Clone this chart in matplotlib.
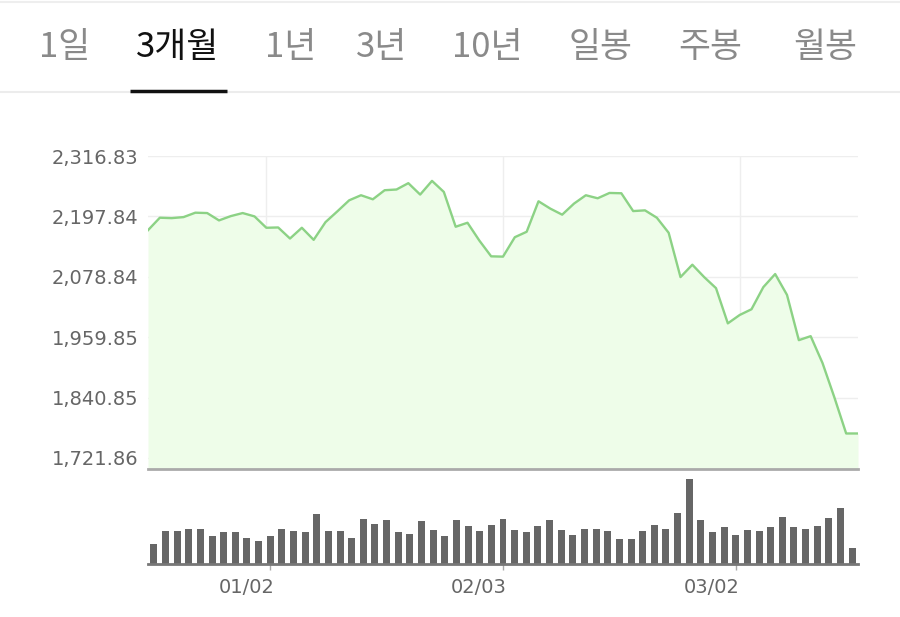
import numpy as np
import matplotlib
matplotlib.use('Agg')
import matplotlib.pyplot as plt
import matplotlib.transforms as mtransforms
from matplotlib.lines import Line2D

## datos
tabs       = ['1일', '3개월', '1년', '3년', '10년', '일봉', '주봉', '월봉']
tab_activo = 1

precio = [2170.6, 2195.2, 2194.4, 2196.4, 2205.1, 2204.4, 2189.9, 2198.4, 2204.4, 2197.8,
          2175.4, 2176.0, 2154.2, 2175.4, 2151.6, 2186.5, 2207.7, 2229.5, 2239.5, 2231.5,
          2249.4, 2250.8, 2263.3, 2240.8, 2267.8, 2246.0, 2177.4, 2185.3, 2150.2, 2119.1,
          2118.5, 2156.8, 2167.5, 2227.6, 2213.1, 2201.2, 2223.0, 2239.5, 2233.5, 2244.0,
          2243.4, 2208.3, 2209.7, 2195.2, 2165.5, 2078.2, 2102.6, 2078.2, 2056.4, 1987.0,
          2003.5, 2014.8, 2058.4, 2084.2, 2043.1, 1953.9, 1961.8, 1908.9, 1841.4, 1770.0,
          1770.0]

volumen = [61, 98, 98, 106, 106, 83, 95, 95, 79, 69,
           83, 106, 98, 95, 151, 98, 98, 79, 136, 121,
           132, 95, 91, 128, 102, 83, 132, 113, 98, 117,
           136, 102, 95, 113, 132, 102, 87, 106, 106, 98,
           76, 76, 98, 117, 106, 155, 256, 132, 95, 110,
           87, 102, 98, 110, 143, 110, 106, 113, 140, 170,
           49]

y_ticks   = [1721.86, 1840.85, 1959.85, 2078.84, 2197.84, 2316.83]
x_tick_ix = [10, 30, 50]
x_labels  = ['01/02', '02/03', '03/02']

x = np.arange(len(precio))

fig = plt.figure(figsize=(9, 6.17), dpi=100)
fig.patch.set_facecolor('white')

## pestañas de arriba
tab_x = [65, 178, 291, 382, 487, 601, 710, 825]
for i, t in enumerate(tabs):
    fig.text(tab_x[i] / 900, 1 - 47 / 617, t, ha='center', va='center',
             fontsize=25, family=['Noto Sans CJK KR', 'DejaVu Sans'],
             color='#111111' if i == tab_activo else '#8a8a8a')
fig.add_artist(Line2D([0, 1], [1 - 1.5 / 617] * 2, color='#eeeeee', lw=1.5,
                      transform=fig.transFigure))
fig.add_artist(Line2D([0, 1], [1 - 92 / 617] * 2, color='#ececec', lw=1.5,
                      transform=fig.transFigure))
fig.add_artist(Line2D([130 / 900, 227 / 900], [1 - 91 / 617] * 2, color='#111111', lw=2.5,
                      transform=fig.transFigure, solid_capstyle='butt'))

## grafico de precio
ax = fig.add_axes([148 / 900, 1 - 469 / 617, 710 / 900, 313 / 617])
ax.fill_between(x, precio, 1700, color='#eefde9', lw=0)
ax.plot(x, precio, color='#8cd285', lw=1.7)
ax.set_xlim(0, len(precio) - 1)
ax.set_ylim(1700, 2316.83)
ax.set_yticks(y_ticks)
ax.set_yticklabels(['{:,.2f}'.format(v) for v in y_ticks])
ax.set_xticks(x_tick_ix)
ax.set_xticklabels([])
ax.grid(True, color='#eeeeee', lw=1)
ax.set_axisbelow(True)
ax.tick_params(length=0, labelsize=14, labelcolor='#666666', pad=7)
for s in ['top', 'right', 'left']:
    ax.spines[s].set_visible(False)
ax.spines['bottom'].set_color('#aaaaaa')
ax.spines['bottom'].set_linewidth(2)

## grafico de volumen
axv = fig.add_axes([148 / 900, 1 - 564 / 617, 710 / 900, 88 / 617])
axv.bar(x, volumen, width=0.6, color='#666666')
axv.set_xlim(-0.5, len(volumen) - 0.5)
axv.set_ylim(0, 265)
axv.set_yticks([])
axv.set_xticks(x_tick_ix)
axv.set_xticklabels(x_labels)
axv.tick_params(axis='x', length=4, width=1, color='#aaaaaa', labelsize=14,
                labelcolor='#666666', pad=6)
# las etiquetas quedan corridas a la izquierda del tick
corrimiento = mtransforms.ScaledTranslation(-24 / 100, 0, fig.dpi_scale_trans)
for lbl in axv.get_xticklabels():
    lbl.set_transform(lbl.get_transform() + corrimiento)
for s in ['top', 'right', 'left']:
    axv.spines[s].set_visible(False)
axv.spines['bottom'].set_color('#777777')
axv.spines['bottom'].set_linewidth(2)

fig.savefig('out.png', dpi=100)
